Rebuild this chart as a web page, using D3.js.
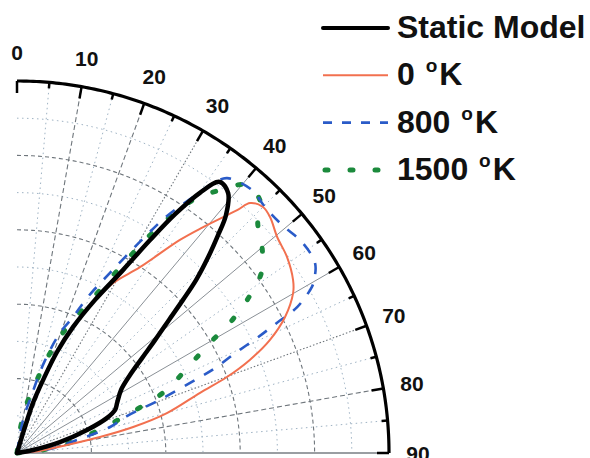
<!DOCTYPE html>
<html>
<head>
<meta charset="utf-8">
<script src="https://cdn.jsdelivr.net/npm/d3@7"></script>
<style>
  body { margin: 0; background: #fff; }
  text { font-family: Arial, "Liberation Sans", sans-serif; font-weight: bold; fill: #111; }
</style>
</head>
<body>
<div id="chart"></div>
<script>
// angle (deg from vertical) / normalised radius pairs
const staticModel = [
  [16, 0], [16.9, 0.065], [17.7, 0.141], [19.8, 0.214], [21.6, 0.292], [24, 0.371],
  [27, 0.462], [30.1, 0.569], [32, 0.675], [33.5, 0.77], [35.1, 0.855],
  [36.8, 0.91], [39.1, 0.9], [41.3, 0.851], [42.7, 0.797], [44.3, 0.736],
  [46, 0.669], [47.3, 0.607], [48.8, 0.543], [50.7, 0.48], [52.8, 0.422],
  [55.4, 0.369], [58.8, 0.327], [63.4, 0.301], [66.3, 0.288], [68.7, 0.26],
  [71.8, 0.198], [75.7, 0.119], [79.4, 0.044], [80, 0]
];
const k0 = [
  [16, 0], [17.7, 0.141], [19.8, 0.214], [21.6, 0.292], [24, 0.371], [27, 0.457],
  [29.5, 0.525], [33.5, 0.599], [37.4, 0.721], [39.5, 0.787], [42.2, 0.881],
  [43, 0.919], [45, 0.935], [47, 0.93], [50.3, 0.909], [54, 0.897], [57.9, 0.876],
  [59.9, 0.858], [63.1, 0.808], [65.9, 0.745], [68.2, 0.674], [70.1, 0.6],
  [71.8, 0.518], [75.1, 0.417], [77.4, 0.32], [79.1, 0.227], [80.9, 0.136],
  [86, 0.043], [86, 0]
];
const k800 = [
  [8, 0], [10.3, 0.09], [14, 0.156], [16.6, 0.252], [19.7, 0.343], [22.4, 0.395],
  [24.3, 0.457], [27.3, 0.545], [30.3, 0.661], [32.3, 0.753], [34.5, 0.835],
  [36.2, 0.902], [37.4, 0.93], [41.8, 0.948], [45.2, 0.939], [49.3, 0.94],
  [53.5, 0.953], [57.5, 0.95], [59.8, 0.924], [60.6, 0.91], [62.5, 0.849],
  [63.4, 0.781], [64.4, 0.715], [65.4, 0.645], [66.8, 0.579], [67.6, 0.524],
  [69.6, 0.408], [71.4, 0.313], [74.4, 0.26], [77.8, 0.165], [83, 0.089], [84, 0]
];
const k1500 = [
  [6, 0], [8, 0.07], [11.3, 0.137], [15.3, 0.203], [17.8, 0.27], [21.3, 0.355],
  [25, 0.433], [27.6, 0.512], [31.4, 0.686], [33.1, 0.763], [35.2, 0.839],
  [37.7, 0.893], [40.4, 0.946], [43.8, 0.943], [46.3, 0.895], [50.1, 0.859],
  [53.4, 0.82], [55.9, 0.757], [58.3, 0.68], [60.3, 0.597], [63.3, 0.515],
  [67.2, 0.435], [69.4, 0.362], [71.9, 0.286], [74.9, 0.217], [78.7, 0.151],
  [82.6, 0.084], [84, 0]
];

const angleTicks = d3.range(0, 91, 10);
const seriesNames = ["Static Model", "0 ", "800 ", "1500 "];

const width = 590, height = 458;
const ox = 17, oy = 453, R = 372;

const a = d3.scaleLinear().domain([0, 90]).range([0, Math.PI / 2]);
const r = d3.scaleLinear().domain([0, 1]).range([0, R]);

const svg = d3.select("#chart")
  .append("svg")
  .attr("width", width)
  .attr("height", height);

const g = svg.append("g").attr("transform", `translate(${ox},${oy})`);

// grid: circles every 0.1
const ring = d3.lineRadial()
  .angle(d => a(d[0]))
  .radius(d => r(d[1]));

d3.range(1, 10).forEach(i => {
  const pts = d3.range(0, 90.5, 1).map(t => [t, i / 10]);
  g.append("path")
    .attr("d", ring(pts))
    .attr("fill", "none")
    .attr("stroke", i % 2 ? "#9fb3c4" : "#6f767c")
    .attr("stroke-width", i % 2 ? 1 : 1.1)
    .attr("stroke-dasharray", i % 2 ? "1.5,3.5" : "4,3");
});

// grid: spokes every 5 degrees
function spokeStyle(t) {
  if (t % 10) return { c: "#9fb3c4", w: 1, dash: "1.5,3.5" };
  if (t >= 40 && t <= 60) return { c: "#8a9096", w: 1, dash: null };
  if (t === 30 || t === 70) return { c: "#6f767c", w: 1.1, dash: "1.5,2" };
  return { c: "#6f767c", w: 1.1, dash: "5,3" };
}
d3.range(5, 90, 5).forEach(t => {
  const s = spokeStyle(t);
  g.append("line")
    .attr("x1", 0).attr("y1", 0)
    .attr("x2", r(1) * Math.sin(a(t)))
    .attr("y2", -r(1) * Math.cos(a(t)))
    .attr("stroke", s.c)
    .attr("stroke-width", s.w)
    .attr("stroke-dasharray", s.dash);
});

// bottom axis
g.append("line")
  .attr("x1", 0).attr("y1", 0)
  .attr("x2", r(1)).attr("y2", 0)
  .attr("stroke", "#9a9ea2")
  .attr("stroke-width", 2);

// outer arc + ticks
g.append("path")
  .attr("d", ring(d3.range(0, 90.5, 0.5).map(t => [t, 1])))
  .attr("fill", "none")
  .attr("stroke", "#000")
  .attr("stroke-width", 3.2);

d3.range(0, 91, 5).forEach(t => {
  const len = t % 10 ? 6 : 12;
  const s = Math.sin(a(t)), c = Math.cos(a(t));
  g.append("line")
    .attr("x1", r(1) * s).attr("y1", -r(1) * c)
    .attr("x2", (r(1) - len) * s).attr("y2", -(r(1) - len) * c)
    .attr("stroke", "#000")
    .attr("stroke-width", 2.5);
});

g.selectAll(".alabel")
  .data(angleTicks)
  .enter().append("text")
  .attr("class", "alabel")
  .attr("x", d => (r(1) + 29) * Math.sin(a(d)))
  .attr("y", d => -(r(1) + 29) * Math.cos(a(d)))
  .attr("text-anchor", "middle")
  .attr("dominant-baseline", "central")
  .attr("font-size", 21)
  .text(d => d);

// curves
const curve = d3.lineRadial()
  .angle(d => a(d[0]))
  .radius(d => r(d[1]))
  .curve(d3.curveCatmullRom.alpha(0.5));

const styles = [
  { data: k1500, c: "#1b8a3c", w: 5, dash: "3,23", cap: "round" },
  { data: k800, c: "#2a5bc8", w: 2.6, dash: "11,11", cap: "butt" },
  { data: k0, c: "#f2704f", w: 2, dash: null, cap: "butt" },
  { data: staticModel, c: "#000", w: 4.5, dash: null, cap: "round" }
];

styles.forEach(s => {
  g.append("path")
    .attr("d", curve(s.data))
    .attr("fill", "none")
    .attr("stroke", s.c)
    .attr("stroke-width", s.w)
    .attr("stroke-dasharray", s.dash)
    .attr("stroke-linecap", s.cap)
    .attr("stroke-linejoin", "round");
});

// legend
const legend = svg.append("g");
const legendStyles = [styles[3], styles[2], styles[1], styles[0]];
const legendDash = [null, null, "9,10", "3,22"];
seriesNames.forEach((name, i) => {
  const y = 28 + i * 47.3;
  const s = legendStyles[i];
  legend.append("line")
    .attr("x1", i === 3 ? 325 : 323).attr("x2", 388)
    .attr("y1", y).attr("y2", y)
    .attr("stroke", s.c)
    .attr("stroke-width", i === 0 ? 4 : s.w)
    .attr("stroke-dasharray", legendDash[i])
    .attr("stroke-linecap", s.cap);
  const t = legend.append("text")
    .attr("x", 397)
    .attr("y", y + 10)
    .attr("font-size", 32);
  if (i === 0) {
    t.text(name);
  } else {
    t.append("tspan").text(name);
    t.append("tspan").attr("font-size", 19).attr("dx", 2).attr("dy", -13).text("o");
    t.append("tspan").attr("dx", 2).attr("dy", 13).text("K");
  }
});
</script>
</body>
</html>
